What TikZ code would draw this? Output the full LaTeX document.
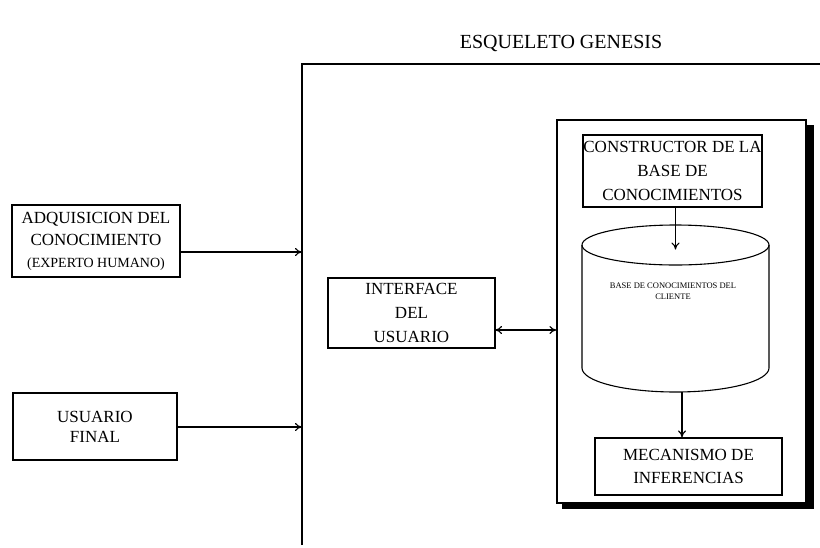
\documentclass[tikz,border=0pt]{standalone}
\usepackage{fontspec}
\setmainfont{Liberation Serif}
\usetikzlibrary{arrows.meta}
\begin{document}
\begin{tikzpicture}[x=1pt,y=-1pt,
  line width=1.1pt,
  box/.style={draw, rectangle, inner sep=0pt, align=center,
    font=\fontsize{17}{22}\selectfont},
  arr/.style={-{To[length=7pt,width=8pt]}},
  darr/.style={{To[length=7pt,width=8pt]}-{To[length=7pt,width=8pt]}},
]
\useasboundingbox (0,0) rectangle (820,547);

% title
\node[font=\fontsize{20}{24}\selectfont] (title) at (561,43) {ESQUELETO GENESIS};

% frame of the skeleton: top edge and left edge
\coordinate (ftl) at (302,64);
\coordinate (ftr) at (820,64);
\coordinate (fbl) at (302,545);
\draw (fbl) -- (ftl) -- (ftr);

% external boxes
\node[box, minimum width=168pt, minimum height=72pt] (adq) at (96,241)
  {ADQUISICION DEL\\CONOCIMIENTO\\{\fontsize{14}{22}\selectfont (EXPERTO HUMANO)}};
\node[box, minimum width=164pt, minimum height=67pt,
  font=\fontsize{17}{20}\selectfont] (usr) at (95,426.5)
  {USUARIO\\FINAL};

\coordinate (inA) at (302,252);
\coordinate (inB) at (302,427);
\draw[arr] (adq.east |- inA) -- (inA);
\draw[arr] (usr.east |- inB) -- (inB);

% user interface
\node[box, minimum width=167pt, minimum height=70pt,
  font=\fontsize{17}{24}\selectfont] (ui) at (411.5,313) {INTERFACE\\DEL\\USUARIO};

% inner block with drop shadow
\fill (806,125) rectangle (814,509);
\fill (562,503) rectangle (814,509);
\node[draw, rectangle, fill=white, minimum width=249pt, minimum height=383pt,
  inner sep=0pt] (kb) at (681.5,311.5) {};

\coordinate (uiR) at (495,330);
\draw[darr] (uiR) -- (kb.west |- uiR);

% knowledge base builder
\node[box, minimum width=179pt, minimum height=72pt,
  font=\fontsize{17}{24}\selectfont] (con) at (672.5,171)
  {CONSTRUCTOR DE LA\\BASE DE\\CONOCIMIENTOS};

% knowledge base cylinder
\coordinate (cyl) at (675.5,245);
\draw[fill=white] (582,245) -- (582,368)
  arc[start angle=180, end angle=360, x radius=93.5pt, y radius=24pt]
  -- (769,245);
\draw (cyl) ellipse[x radius=93.5pt, y radius=20pt];
\node[font=\fontsize{8.5}{11}\selectfont, align=center] (kbtext) at (673,291)
  {BASE DE CONOCIMIENTOS DEL\\CLIENTE};
\coordinate (cylbot) at (682,392);

\draw[arr] (con.south -| cyl) -- ++(0,42);

% inference engine
\node[box, minimum width=187pt, minimum height=57pt,
  font=\fontsize{17}{23}\selectfont] (inf) at (688.5,466.5)
  {MECANISMO DE\\INFERENCIAS};
\draw[arr] (cylbot) -- (cylbot |- inf.north);

\end{tikzpicture}
\end{document}
